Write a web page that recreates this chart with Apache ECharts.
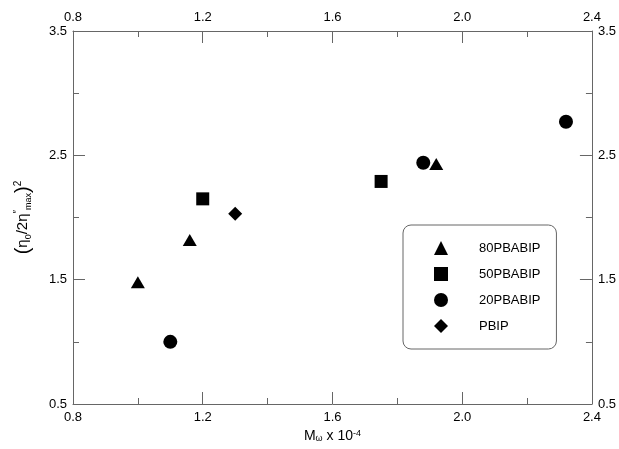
<!DOCTYPE html>
<html>
<head>
<meta charset="utf-8">
<script src="https://cdn.jsdelivr.net/npm/echarts@6/dist/echarts.min.js"></script>
<style>
  html, body { margin: 0; padding: 0; background: #fff; }
  #chart { width: 619px; height: 449px; }
</style>
</head>
<body>
<div id="chart"></div>
<script>
// series as [Mw x 10^-4, (eta0/2eta''max)^2]
const seriesNames = ['80PBABIP', '50PBABIP', '20PBABIP', 'PBIP']
const pba80 = [[1.00, 1.48], [1.16, 1.82], [1.92, 2.43]]
const pba50 = [[1.20, 2.15], [1.75, 2.29]]
const pba20 = [[1.10, 1.00], [1.88, 2.44], [2.32, 2.77]]
const pbip = [[1.30, 2.03]]
// axis ticks
const yTicks = [0.5, 1.5, 2.5, 3.5]
const yMinorTicks = [1.0, 2.0, 3.0]

const FONT = 'Liberation Sans, Arial, Helvetica, sans-serif'
const AXIS_COLOR = '#666'

const chart = echarts.init(document.getElementById('chart'), null, { renderer: 'canvas' })

function xAxisOf(position, withName) {
  return {
    type: 'value',
    position: position,
    min: 0.8,
    max: 2.4,
    interval: 0.4,
    name: withName ? '{t|M}{s|ω}{t| x 10}{sup|-4}' : '',
    nameLocation: 'middle',
    nameGap: 24,
    nameTextStyle: {
      color: '#000',
      fontFamily: FONT,
      fontSize: 14,
      rich: {
        t: { fontSize: 14, fontFamily: FONT, color: '#000' },
        s: { fontSize: 9, fontFamily: FONT, color: '#000', verticalAlign: 'bottom' },
        sup: { fontSize: 9, fontFamily: FONT, color: '#000', verticalAlign: 'top' }
      }
    },
    axisLine: { show: true, onZero: false, lineStyle: { color: AXIS_COLOR, width: 1 } },
    axisTick: { show: true, inside: true, length: 12, lineStyle: { color: AXIS_COLOR } },
    minorTick: { show: true, splitNumber: 2, length: 6, lineStyle: { color: AXIS_COLOR } },
    splitLine: { show: false },
    minorSplitLine: { show: false },
    axisLabel: {
      color: '#000',
      fontFamily: FONT,
      fontSize: 13,
      margin: 7,
      formatter: v => v.toFixed(1)
    }
  }
}

function yAxisOf(position, withName) {
  return {
    type: 'value',
    position: position,
    min: 0.5,
    max: 3.5,
    interval: 0.5,
    name: withName ? '{p|(}{t|η}{s|0}{t|/2η}{sup|″}{s|max}{p|)}{sup|2}' : '',
    nameLocation: 'middle',
    nameGap: 40,
    nameTextStyle: {
      color: '#000',
      fontFamily: FONT,
      fontSize: 14,
      rich: {
        p: { fontSize: 20, fontFamily: FONT, color: '#000' },
        t: { fontSize: 15, fontFamily: FONT, color: '#000' },
        s: { fontSize: 9, fontFamily: FONT, color: '#000', verticalAlign: 'bottom' },
        sup: { fontSize: 10, fontFamily: FONT, color: '#000', verticalAlign: 'top' }
      }
    },
    axisLine: { show: true, onZero: false, lineStyle: { color: AXIS_COLOR, width: 1 } },
    axisTick: { show: true, inside: true, length: 12, customValues: yTicks, lineStyle: { color: AXIS_COLOR } },
    splitLine: { show: false },
    axisLabel: {
      color: '#000',
      fontFamily: FONT,
      fontSize: 13,
      margin: 6,
      customValues: yTicks,
      formatter: v => v.toFixed(1)
    }
  }
}

// short ticks between the labelled ones
function yMinorAxisOf(position) {
  return {
    type: 'value',
    position: position,
    min: 0.5,
    max: 3.5,
    interval: 0.5,
    axisLine: { show: false },
    axisTick: { show: true, inside: true, length: 6, customValues: yMinorTicks, lineStyle: { color: AXIS_COLOR } },
    axisLabel: { show: false },
    splitLine: { show: false }
  }
}

function scatter(name, symbol, size, data) {
  return {
    name: name,
    type: 'scatter',
    xAxisIndex: 0,
    yAxisIndex: 0,
    symbol: symbol,
    symbolSize: size,
    itemStyle: { color: '#000', opacity: 1 },
    data: data
  }
}

const option = {
  backgroundColor: '#fff',
  animation: false,
  grid: { left: 73, right: 27, top: 31, bottom: 45, containLabel: false },
  legend: {
    data: seriesNames,
    orient: 'vertical',
    left: 403,
    top: 225,
    padding: [16, 16, 16, 31],
    itemWidth: 14,
    itemHeight: 14,
    itemGap: 12,
    borderColor: AXIS_COLOR,
    borderWidth: 1,
    borderRadius: 8,
    itemStyle: { opacity: 1 },
    textStyle: { color: '#000', fontFamily: FONT, fontSize: 13, padding: [0, 0, 0, 26] }
  },
  xAxis: [xAxisOf('bottom', true), xAxisOf('top', false)],
  yAxis: [yAxisOf('left', true), yAxisOf('right', false), yMinorAxisOf('left'), yMinorAxisOf('right')],
  series: [
    scatter(seriesNames[0], 'triangle', [14, 12], pba80),
    scatter(seriesNames[1], 'rect', 13, pba50),
    scatter(seriesNames[2], 'circle', 14, pba20),
    scatter(seriesNames[3], 'diamond', 14, pbip)
  ]
}

chart.setOption(option)
</script>
</body>
</html>
